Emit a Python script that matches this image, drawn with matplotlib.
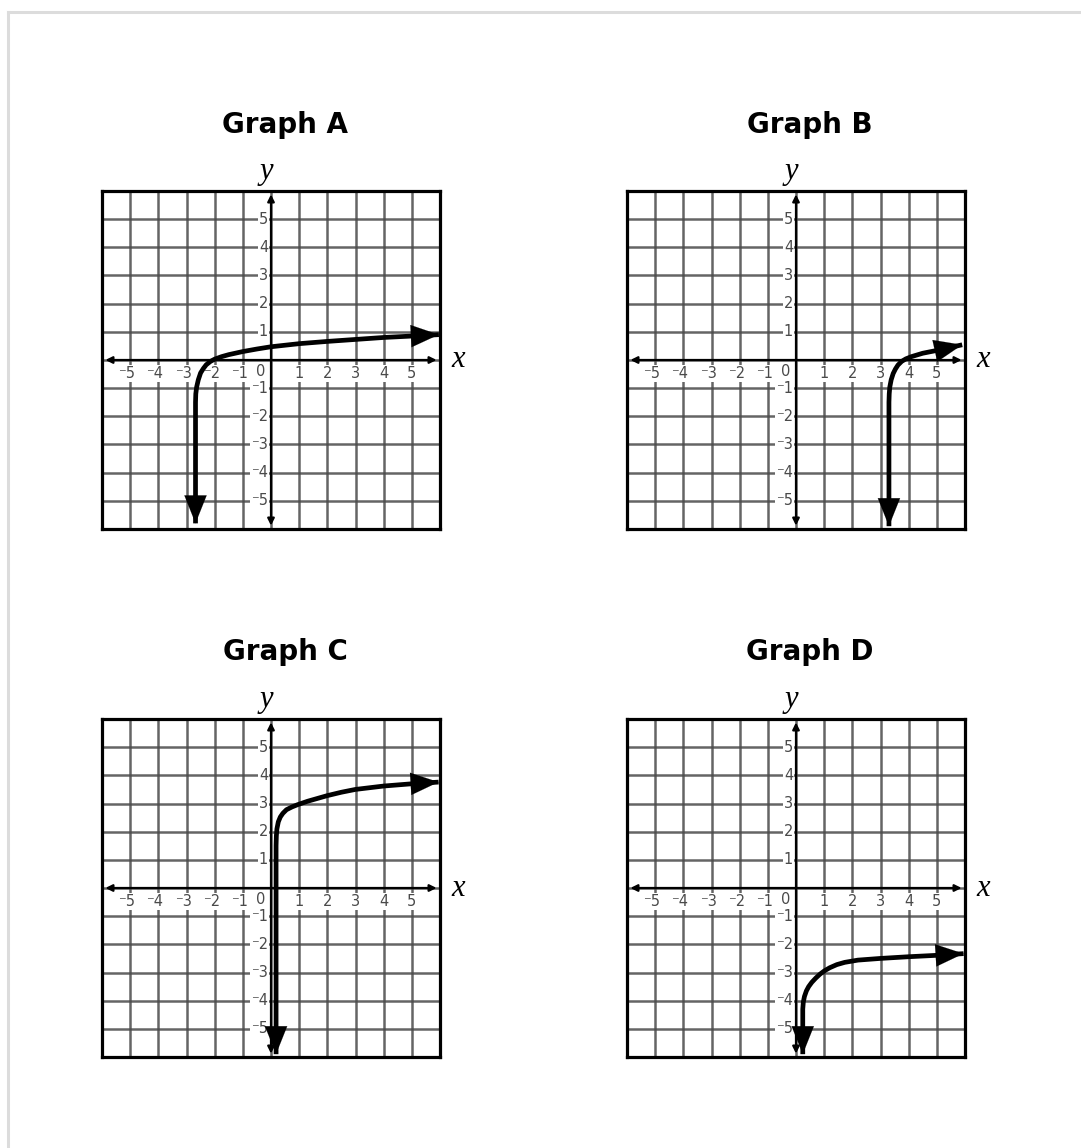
import matplotlib.pyplot as plt
from matplotlib.lines import Line2D

### Dados (pontos das curvas em unidades do gráfico)

graph_names = ['Graph A', 'Graph B', 'Graph C', 'Graph D']

curve_a_x = [-2.68, -2.68, -2.67, -2.64, -2.58, -2.5, -2.4, -2.3, -2.15, -2.0, -1.75, -1.5,
             -1.0, -0.5, 0.0, 1.0, 2.0, 3.0, 4.0, 5.0, 5.96]
curve_a_y = [-5.8, -1.5, -1.2, -0.96, -0.7, -0.46, -0.3, -0.17, -0.05, 0.03, 0.12, 0.19,
             0.3, 0.39, 0.47, 0.58, 0.66, 0.73, 0.8, 0.85, 0.9]

curve_b_x = [3.3, 3.3, 3.31, 3.33, 3.38, 3.45, 3.53, 3.62, 3.75, 3.9, 4.1, 4.5, 5.0, 5.9]
curve_b_y = [-5.9, -1.5, -1.2, -0.96, -0.7, -0.48, -0.32, -0.18, -0.05, 0.04, 0.12, 0.24, 0.34, 0.54]

curve_c_x = [0.18, 0.18, 0.19, 0.21, 0.26, 0.33, 0.42, 0.55, 0.75, 0.95, 1.3, 2.0, 2.5, 3.0,
             4.0, 5.0, 5.95]
curve_c_y = [-5.9, 1.5, 1.85, 2.1, 2.35, 2.52, 2.65, 2.78, 2.88, 2.96, 3.08, 3.28, 3.4, 3.5,
             3.62, 3.7, 3.76]

curve_d_x = [0.24, 0.24, 0.26, 0.3, 0.37, 0.45, 0.56, 0.7, 0.85, 1.01, 1.2, 1.45, 1.73, 2.2,
             3.0, 4.0, 5.0, 5.95]
curve_d_y = [-5.9, -4.3, -4.05, -3.85, -3.65, -3.5, -3.35, -3.2, -3.06, -2.94, -2.83, -2.72,
             -2.64, -2.56, -2.5, -2.44, -2.39, -2.33]

curves = [(curve_a_x, curve_a_y), (curve_b_x, curve_b_y),
          (curve_c_x, curve_c_y), (curve_d_x, curve_d_y)]

tick_values = [-5, -4, -3, -2, -1, 1, 2, 3, 4, 5]
tick_labels = ['\u207b5', '\u207b4', '\u207b3', '\u207b2', '\u207b1',
               '1', '2', '3', '4', '5']

### Layout (pixels da imagem original)

W, H = 1081, 1148
boxes = [(102, 191), (627, 191), (102, 719), (627, 719)]  # canto superior esquerdo
BOX = 338
title_pos = [(285, 125), (810, 125), (285, 652), (810, 652)]

LABEL_COLOR = '#4a4a4a'
GRID_COLOR = '#4a4a4a'

fig = plt.figure(figsize=(W / 100, H / 100), dpi=100)
fig.patch.set_facecolor('white')

# moldura cinza clara (apenas topo e esquerda visíveis)
fig.add_artist(Line2D([8 / W, 1.0], [1 - 12 / H, 1 - 12 / H], color='#dcdcdc', lw=2.2))
fig.add_artist(Line2D([8 / W, 8 / W], [1 - 12 / H, 0.0], color='#dcdcdc', lw=2.2))

for (left, top), (cx, cy), name, (xs, ys) in zip(boxes, title_pos, graph_names, curves):
    ax = fig.add_axes([left / W, 1 - (top + BOX) / H, BOX / W, BOX / H])
    ax.set_xlim(-6, 6)
    ax.set_ylim(-6, 6)
    ax.set_xticks(range(-6, 7))
    ax.set_yticks(range(-6, 7))
    ax.tick_params(length=0, labelbottom=False, labelleft=False)
    ax.grid(True, color=GRID_COLOR, lw=1.8, alpha=0.85)
    ax.set_axisbelow(True)
    for s in ax.spines.values():
        s.set_linewidth(2.3)
        s.set_color('black')

    # eixos com setas
    ax.annotate('', xy=(5.88, 0), xytext=(-5.88, 0),
                arrowprops=dict(arrowstyle='<|-|>', color='black', lw=1.6,
                                mutation_scale=10, shrinkA=0, shrinkB=0), zorder=3)
    ax.annotate('', xy=(0, 5.88), xytext=(0, -5.88),
                arrowprops=dict(arrowstyle='<|-|>', color='black', lw=1.6,
                                mutation_scale=10, shrinkA=0, shrinkB=0), zorder=3)

    # rótulos dos eixos
    box = dict(facecolor='white', edgecolor='none', pad=0.6)
    for v, lab in zip(tick_values, tick_labels):
        if v < 0:
            ax.text(v + 0.18, -0.47, lab, ha='right', va='center', fontsize=10.5,
                    color=LABEL_COLOR, bbox=box, zorder=2)
        else:
            ax.text(v, -0.47, lab, ha='center', va='center', fontsize=10.5,
                    color=LABEL_COLOR, bbox=box, zorder=2)
        ax.text(-0.1, v, lab, ha='right', va='center', fontsize=10.5,
                color=LABEL_COLOR, bbox=box, zorder=2)
    ax.text(-0.36, -0.42, '0', ha='center', va='center', fontsize=10.5,
            color=LABEL_COLOR, bbox=box, zorder=2)

    ax.text(-0.18, 6.68, 'y', ha='center', va='center', fontsize=22,
            family='Liberation Serif', style='italic', clip_on=False)
    ax.text(6.65, 0.0, 'x', ha='center', va='center', fontsize=22,
            family='Liberation Serif', style='italic', clip_on=False)

    # curva com setas nas pontas
    ax.plot(xs, ys, color='black', lw=3.4, solid_capstyle='butt',
            solid_joinstyle='round', zorder=4)
    for i_end, i_prev in [(0, 1), (-1, -2)]:
        ax.annotate('', xy=(xs[i_end], ys[i_end]), xytext=(xs[i_prev], ys[i_prev]),
                    arrowprops=dict(arrowstyle='-|>,head_length=1.0,head_width=0.4',
                                    color='black', lw=0.1, mutation_scale=20,
                                    shrinkA=0, shrinkB=0), zorder=5)

    fig.text(cx / W, 1 - cy / H, name, ha='center', va='center',
             fontsize=20, fontweight='bold')

plt.savefig('out.png', dpi=100)
